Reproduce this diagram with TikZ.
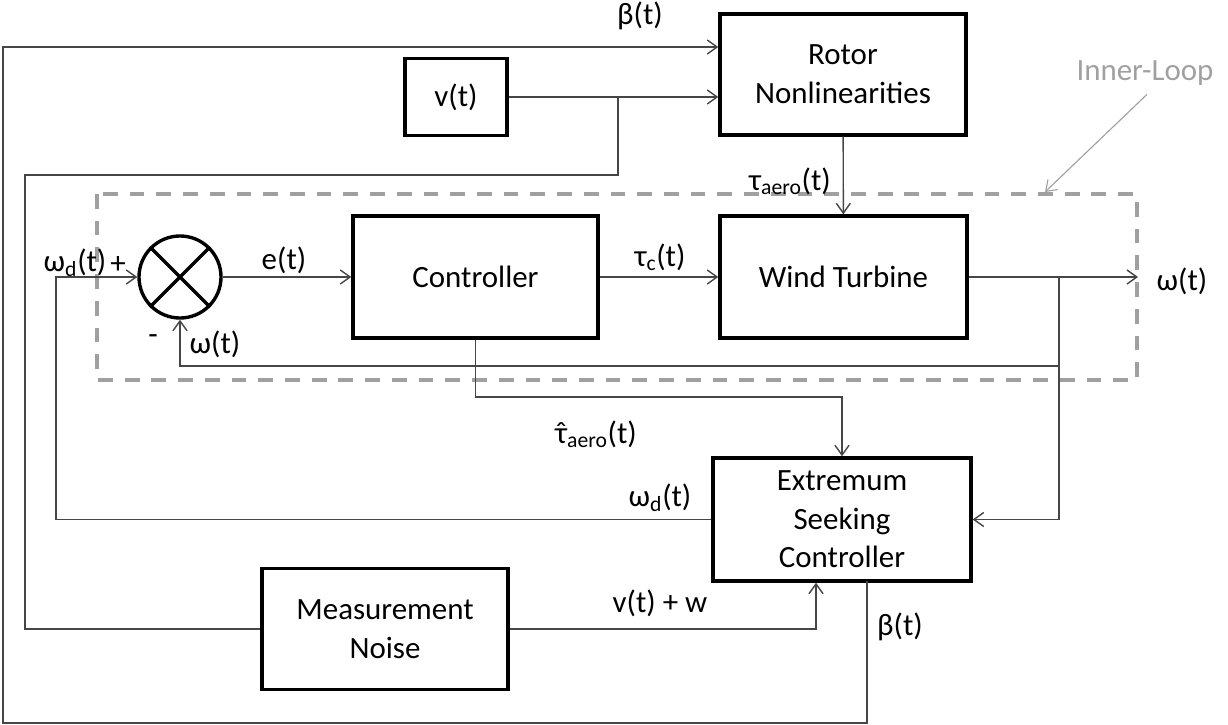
\documentclass[tikz,border=0pt]{standalone}
\usepackage{fontspec}
\setmainfont{Carlito}
\usetikzlibrary{arrows.meta}
\definecolor{wire}{RGB}{70,70,70}
\definecolor{loopgray}{RGB}{160,160,160}
\newcommand\tauhat{\ooalign{τ\cr\hidewidth ˆ\hidewidth\cr}}
\tikzset{
  block/.style={rectangle,draw,line width=2.4pt,align=center,inner sep=2pt},
  line/.style={draw=wire,line width=1pt,-{Straight Barb[length=7pt,width=10pt]}},
  link/.style={draw=wire,line width=1pt},
  lbl/.style={inner sep=1pt},
  every node/.style={font=\fontsize{22}{27.5}\selectfont}
}
\begin{document}
\begin{tikzpicture}[x=0.025cm,y=-0.025cm]
\useasboundingbox (0,0) rectangle (1228,724);
% blocks
\node[block, minimum width=6.15cm, minimum height=3.025cm] (rotor) at (843,74.5) {Rotor\\Nonlinearities};
\node[block, minimum width=2.55cm, minimum height=1.925cm] (vsrc) at (456,97) {v(t)};
\node[block, minimum width=6.125cm, minimum height=3.05cm] (ctrl) at (475.5,277) {Controller};
\node[block, minimum width=6.175cm, minimum height=3.05cm] (wt) at (843.5,277) {Wind Turbine};
\node[block, minimum width=6.45cm, minimum height=3.075cm] (esc) at (842,519.5) {Extremum\\Seeking\\Controller};
\node[block, minimum width=6.15cm, minimum height=3.025cm] (noise) at (385,629) {Measurement\\Noise};
\node[circle, draw, line width=2.4pt, minimum size=2.05cm, inner sep=0pt] (sum) at (180,277) {};
\draw[line width=2.4pt] (sum.45) -- (sum.225) (sum.135) -- (sum.-45);

% inner loop frame
\draw[loopgray, line width=2.2pt, dash pattern=on 10.5pt off 8.5pt] (97,194) rectangle (1137,380);
\node[text=loopgray] (inner) at (1145,73) {Inner-Loop};
\draw[loopgray, line width=0.8pt, -{Straight Barb[length=7pt,width=10pt]}] (inner.south) ++(2,4) coordinate (ia) -- (1045,192);

% helper points
\coordinate (vj) at (618,97);
\coordinate (bin) at (0,47);
\coordinate (bo) at (867,581);
\coordinate (nin) at (816,0);
\coordinate (out) at (1138,277);
\coordinate (fj) at (1059,277);
\coordinate (fb) at (0,366);
\coordinate (wd) at (56,0);
\coordinate (th) at (0,397);

% signals
\draw[line] (vsrc.east) -- (vsrc.east -| rotor.west);
\draw[link] (vj) |- (25,175) |- (noise.west);
\draw[line] (bo) |- (3,723) |- (rotor.west |- bin);
\draw[line] (noise.east) -| (esc.south -| nin);
\draw[line] (rotor) -- (wt);
\draw[line] (sum) -- (ctrl);
\draw[line] (ctrl) -- (wt);
\draw[line] (wt.east) -- (out);
\draw[line] (fj) |- (sum.south |- fb) -- (sum.south);
\draw[line] (fj) |- (esc.east);
\draw[line] (esc.west) -- (esc.west -| wd) |- (sum.west);
\draw[line] (ctrl.south) -- (ctrl.south |- th) -| (esc.north);

% labels
\node[lbl] at (640,16) {β(t)};
\node[lbl] at (790,181) {τ\textsubscript{aero}(t)};
\node[lbl] at (284,260) {e(t)};
\node[lbl] at (660,257) {τ\textsubscript{c}(t)};
\node[lbl] at (1182,281) {ω(t)};
\node[lbl] at (75,263) {ω\textsubscript{d}(t)};
\node[lbl] at (118,265) {+};
\node[lbl] at (153,340) {-};
\node[lbl] at (215,344) {ω(t)};
\node[lbl] at (596,434) {\tauhat\textsubscript{aero}(t)};
\node[lbl] at (660,498) {ω\textsubscript{d}(t)};
\node[lbl] at (660,603) {v(t) + w};
\node[lbl] at (900,627) {β(t)};
\end{tikzpicture}
\end{document}
